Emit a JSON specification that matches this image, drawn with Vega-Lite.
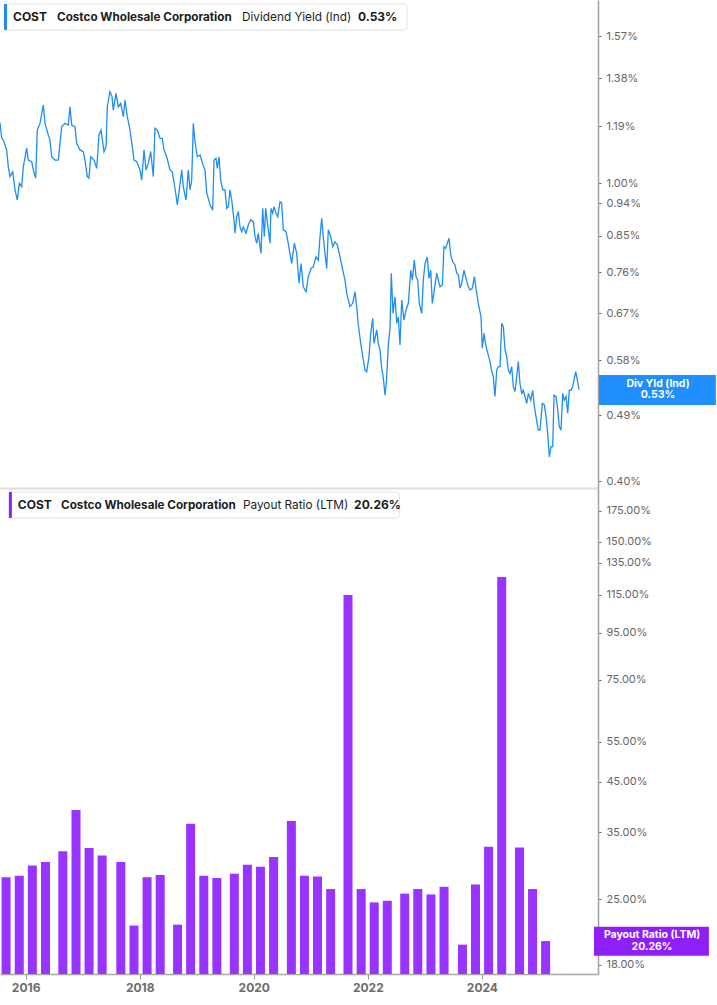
{
  "$schema": "https://vega.github.io/schema/vega-lite/v6.json",
  "padding": 0,
  "background": "white",
  "spacing": 0,
  "config": {
    "view": {"stroke": null},
    "font": "Inter",
    "axis": {"grid": false, "labelFont": "Inter"}
  },
  "datasets": {
    "yield": [
      {"year":2015.638,"yield":1.204},{"year":2015.667,"yield":1.148},{"year":2015.695,"yield":1.141},{"year":2015.753,"yield":1.107},
      {"year":2015.781,"yield":1.051},{"year":2015.810,"yield":1.020},{"year":2015.857,"yield":1.035},{"year":2015.897,"yield":0.979},
      {"year":2015.936,"yield":0.949},{"year":2015.971,"yield":0.999},{"year":2016.012,"yield":0.989},{"year":2016.040,"yield":1.051},
      {"year":2016.098,"yield":1.113},{"year":2016.126,"yield":1.073},{"year":2016.184,"yield":1.068},{"year":2016.212,"yield":1.041},
      {"year":2016.253,"yield":1.015},{"year":2016.281,"yield":1.177},{"year":2016.328,"yield":1.201},{"year":2016.384,"yield":1.271},
      {"year":2016.414,"yield":1.201},{"year":2016.471,"yield":1.159},{"year":2016.500,"yield":1.141},{"year":2016.529,"yield":1.084},
      {"year":2016.586,"yield":1.073},{"year":2016.643,"yield":1.073},{"year":2016.702,"yield":1.189},{"year":2016.759,"yield":1.201},
      {"year":2016.816,"yield":1.195},{"year":2016.845,"yield":1.264},{"year":2016.874,"yield":1.195},{"year":2016.931,"yield":1.189},
      {"year":2016.960,"yield":1.130},{"year":2017.017,"yield":1.107},{"year":2017.074,"yield":1.101},{"year":2017.103,"yield":1.073},
      {"year":2017.143,"yield":1.020},{"year":2017.172,"yield":1.015},{"year":2017.202,"yield":1.084},{"year":2017.259,"yield":1.073},
      {"year":2017.305,"yield":1.046},{"year":2017.345,"yield":1.159},{"year":2017.379,"yield":1.177},{"year":2017.431,"yield":1.101},
      {"year":2017.466,"yield":1.118},{"year":2017.488,"yield":1.264},{"year":2017.534,"yield":1.324},{"year":2017.569,"yield":1.304},
      {"year":2017.591,"yield":1.251},{"year":2017.638,"yield":1.317},{"year":2017.678,"yield":1.264},{"year":2017.719,"yield":1.277},
      {"year":2017.764,"yield":1.226},{"year":2017.793,"yield":1.290},{"year":2017.833,"yield":1.226},{"year":2017.879,"yield":1.177},
      {"year":2017.919,"yield":1.118},{"year":2017.948,"yield":1.073},{"year":2017.995,"yield":1.068},{"year":2018.052,"yield":1.041},
      {"year":2018.081,"yield":1.009},{"year":2018.121,"yield":1.107},{"year":2018.155,"yield":1.041},{"year":2018.195,"yield":1.062},
      {"year":2018.236,"yield":1.101},{"year":2018.281,"yield":1.020},{"year":2018.310,"yield":1.183},{"year":2018.350,"yield":1.177},
      {"year":2018.397,"yield":1.147},{"year":2018.436,"yield":1.147},{"year":2018.466,"yield":1.107},{"year":2018.512,"yield":1.084},
      {"year":2018.569,"yield":1.041},{"year":2018.609,"yield":1.035},{"year":2018.655,"yield":0.984},{"year":2018.695,"yield":0.935},
      {"year":2018.729,"yield":0.979},{"year":2018.771,"yield":1.041},{"year":2018.798,"yield":0.989},{"year":2018.845,"yield":0.949},
      {"year":2018.884,"yield":1.041},{"year":2018.914,"yield":0.979},{"year":2018.943,"yield":1.009},{"year":2018.971,"yield":1.201},
      {"year":2019.000,"yield":1.135},{"year":2019.040,"yield":1.084},{"year":2019.086,"yield":1.090},{"year":2019.143,"yield":1.054},
      {"year":2019.172,"yield":1.041},{"year":2019.202,"yield":0.971},{"year":2019.259,"yield":0.935},{"year":2019.305,"yield":0.920},
      {"year":2019.328,"yield":1.073},{"year":2019.362,"yield":1.079},{"year":2019.384,"yield":1.046},{"year":2019.414,"yield":1.084},
      {"year":2019.443,"yield":1.009},{"year":2019.478,"yield":0.979},{"year":2019.517,"yield":0.979},{"year":2019.547,"yield":0.925},
      {"year":2019.574,"yield":0.930},{"year":2019.603,"yield":0.979},{"year":2019.633,"yield":0.949},{"year":2019.672,"yield":0.893},
      {"year":2019.690,"yield":0.857},{"year":2019.719,"yield":0.902},{"year":2019.747,"yield":0.916},{"year":2019.776,"yield":0.874},
      {"year":2019.805,"yield":0.861},{"year":2019.833,"yield":0.874},{"year":2019.879,"yield":0.857},{"year":2019.919,"yield":0.879},
      {"year":2019.960,"yield":0.893},{"year":2020.005,"yield":0.888},{"year":2020.034,"yield":0.848},{"year":2020.064,"yield":0.831},
      {"year":2020.091,"yield":0.857},{"year":2020.121,"yield":0.822},{"year":2020.138,"yield":0.806},{"year":2020.167,"yield":0.925},
      {"year":2020.195,"yield":0.848},{"year":2020.219,"yield":0.925},{"year":2020.264,"yield":0.866},{"year":2020.293,"yield":0.831},
      {"year":2020.310,"yield":0.925},{"year":2020.340,"yield":0.911},{"year":2020.362,"yield":0.930},{"year":2020.397,"yield":0.911},
      {"year":2020.426,"yield":0.902},{"year":2020.466,"yield":0.944},{"year":2020.495,"yield":0.940},{"year":2020.522,"yield":0.866},
      {"year":2020.569,"yield":0.861},{"year":2020.598,"yield":0.839},{"year":2020.626,"yield":0.814},{"year":2020.667,"yield":0.781},
      {"year":2020.712,"yield":0.831},{"year":2020.753,"yield":0.806},{"year":2020.793,"yield":0.735},{"year":2020.828,"yield":0.781},
      {"year":2020.867,"yield":0.727},{"year":2020.914,"yield":0.716},{"year":2020.953,"yield":0.750},{"year":2021.000,"yield":0.769},
      {"year":2021.040,"yield":0.773},{"year":2021.086,"yield":0.797},{"year":2021.126,"yield":0.789},{"year":2021.155,"yield":0.848},
      {"year":2021.184,"yield":0.897},{"year":2021.212,"yield":0.848},{"year":2021.241,"yield":0.806},{"year":2021.271,"yield":0.769},
      {"year":2021.298,"yield":0.866},{"year":2021.340,"yield":0.848},{"year":2021.374,"yield":0.822},{"year":2021.414,"yield":0.835},
      {"year":2021.453,"yield":0.827},{"year":2021.500,"yield":0.797},{"year":2021.547,"yield":0.765},{"year":2021.586,"yield":0.742},
      {"year":2021.616,"yield":0.713},{"year":2021.672,"yield":0.684},{"year":2021.719,"yield":0.691},{"year":2021.759,"yield":0.716},
      {"year":2021.788,"yield":0.684},{"year":2021.816,"yield":0.646},{"year":2021.857,"yield":0.611},{"year":2021.902,"yield":0.581},
      {"year":2021.931,"yield":0.563},{"year":2021.960,"yield":0.560},{"year":2022.000,"yield":0.587},{"year":2022.029,"yield":0.630},
      {"year":2022.064,"yield":0.660},{"year":2022.086,"yield":0.611},{"year":2022.133,"yield":0.637},{"year":2022.160,"yield":0.611},
      {"year":2022.190,"yield":0.599},{"year":2022.219,"yield":0.566},{"year":2022.247,"yield":0.549},{"year":2022.276,"yield":0.521},
      {"year":2022.302,"yield":0.546},{"year":2022.333,"yield":0.608},{"year":2022.362,"yield":0.641},{"year":2022.384,"yield":0.758},
      {"year":2022.414,"yield":0.670},{"year":2022.448,"yield":0.705},{"year":2022.478,"yield":0.650},{"year":2022.505,"yield":0.663},
      {"year":2022.534,"yield":0.608},{"year":2022.564,"yield":0.698},{"year":2022.603,"yield":0.656},{"year":2022.638,"yield":0.677},
      {"year":2022.678,"yield":0.691},{"year":2022.719,"yield":0.765},{"year":2022.747,"yield":0.742},{"year":2022.781,"yield":0.789},
      {"year":2022.810,"yield":0.750},{"year":2022.840,"yield":0.742},{"year":2022.867,"yield":0.691},{"year":2022.909,"yield":0.670},
      {"year":2022.936,"yield":0.742},{"year":2022.966,"yield":0.781},{"year":2023.005,"yield":0.797},{"year":2023.034,"yield":0.746},
      {"year":2023.064,"yield":0.765},{"year":2023.091,"yield":0.691},{"year":2023.126,"yield":0.720},{"year":2023.167,"yield":0.758},
      {"year":2023.195,"yield":0.742},{"year":2023.224,"yield":0.727},{"year":2023.264,"yield":0.731},{"year":2023.293,"yield":0.822},
      {"year":2023.322,"yield":0.818},{"year":2023.350,"yield":0.831},{"year":2023.379,"yield":0.844},{"year":2023.409,"yield":0.802},
      {"year":2023.443,"yield":0.785},{"year":2023.483,"yield":0.777},{"year":2023.512,"yield":0.758},{"year":2023.540,"yield":0.754},
      {"year":2023.569,"yield":0.724},{"year":2023.598,"yield":0.735},{"year":2023.638,"yield":0.765},{"year":2023.672,"yield":0.746},
      {"year":2023.702,"yield":0.731},{"year":2023.741,"yield":0.720},{"year":2023.781,"yield":0.724},{"year":2023.816,"yield":0.750},
      {"year":2023.857,"yield":0.713},{"year":2023.884,"yield":0.691},{"year":2023.931,"yield":0.663},{"year":2023.953,"yield":0.602},
      {"year":2023.983,"yield":0.630},{"year":2024.017,"yield":0.605},{"year":2024.047,"yield":0.593},{"year":2024.086,"yield":0.578},
      {"year":2024.116,"yield":0.560},{"year":2024.143,"yield":0.552},{"year":2024.172,"yield":0.519},{"year":2024.202,"yield":0.563},
      {"year":2024.229,"yield":0.569},{"year":2024.259,"yield":0.569},{"year":2024.288,"yield":0.650},{"year":2024.316,"yield":0.643},
      {"year":2024.345,"yield":0.599},{"year":2024.374,"yield":0.587},{"year":2024.402,"yield":0.563},{"year":2024.431,"yield":0.557},
      {"year":2024.460,"yield":0.569},{"year":2024.488,"yield":0.535},{"year":2024.517,"yield":0.527},{"year":2024.547,"yield":0.552},
      {"year":2024.574,"yield":0.578},{"year":2024.603,"yield":0.540},{"year":2024.633,"yield":0.524},{"year":2024.660,"yield":0.529},
      {"year":2024.690,"yield":0.519},{"year":2024.719,"yield":0.508},{"year":2024.747,"yield":0.524},{"year":2024.788,"yield":0.513},
      {"year":2024.822,"yield":0.529},{"year":2024.850,"yield":0.503},{"year":2024.879,"yield":0.488},{"year":2024.919,"yield":0.468},
      {"year":2024.948,"yield":0.468},{"year":2024.988,"yield":0.508},{"year":2025.022,"yield":0.506},{"year":2025.052,"yield":0.488},
      {"year":2025.081,"yield":0.463},{"year":2025.109,"yield":0.431},{"year":2025.138,"yield":0.445},{"year":2025.167,"yield":0.445},
      {"year":2025.190,"yield":0.521},{"year":2025.224,"yield":0.519},{"year":2025.253,"yield":0.498},{"year":2025.281,"yield":0.473},
      {"year":2025.310,"yield":0.468},{"year":2025.340,"yield":0.524},{"year":2025.367,"yield":0.513},{"year":2025.397,"yield":0.519},
      {"year":2025.426,"yield":0.493},{"year":2025.453,"yield":0.529},{"year":2025.483,"yield":0.529},{"year":2025.512,"yield":0.535},
      {"year":2025.534,"yield":0.546},{"year":2025.564,"yield":0.560},{"year":2025.591,"yield":0.546},{"year":2025.621,"yield":0.530}
    ],
    "payout": [
      {"year":2015.657,"payout":27.9},{"year":2015.888,"payout":28.1},{"year":2016.117,"payout":29.6},{"year":2016.348,"payout":30.1},
      {"year":2016.652,"payout":31.8},{"year":2016.883,"payout":39.1},{"year":2017.112,"payout":32.3},{"year":2017.341,"payout":31.1},
      {"year":2017.669,"payout":30.1},{"year":2017.900,"payout":21.9},{"year":2018.129,"payout":27.9},{"year":2018.359,"payout":28.2},
      {"year":2018.664,"payout":22.0},{"year":2018.893,"payout":36.5},{"year":2019.124,"payout":28.1},{"year":2019.353,"payout":27.8},
      {"year":2019.659,"payout":28.4},{"year":2019.888,"payout":29.7},{"year":2020.117,"payout":29.4},{"year":2020.348,"payout":30.9},
      {"year":2020.659,"payout":37.0},{"year":2020.888,"payout":28.1},{"year":2021.117,"payout":28.0},{"year":2021.348,"payout":26.3},
      {"year":2021.652,"payout":114.8},{"year":2021.883,"payout":26.3},{"year":2022.112,"payout":24.6},{"year":2022.341,"payout":24.8},
      {"year":2022.647,"payout":25.7},{"year":2022.876,"payout":26.3},{"year":2023.107,"payout":25.6},{"year":2023.336,"payout":26.6},
      {"year":2023.659,"payout":19.9},{"year":2023.888,"payout":26.9},{"year":2024.117,"payout":32.5},{"year":2024.348,"payout":125.7},
      {"year":2024.659,"payout":32.4},{"year":2024.888,"payout":26.3},{"year":2025.117,"payout":20.26}
    ]
  },
  "vconcat": [
    {
      "width": 598,
      "height": 488,
      "layer": [
        {
          "data": {"name": "yield"},
          "mark": {"type": "line", "color": "#1f8ef1", "strokeWidth": 1.3, "clip": true},
          "encoding": {
            "x": {
              "field": "year", "type": "quantitative",
              "scale": {"domain": [2015.638, 2025.948], "nice": false, "zero": false},
              "axis": {"title": null, "labels": false, "ticks": false, "domainColor": "#dedede", "domainWidth": 2}
            },
            "y": {
              "field": "yield", "type": "quantitative",
              "scale": {"type": "log", "domain": [0.3918, 1.7546], "nice": false},
              "axis": {
                "title": null,
                "orient": "right",
                "values": [0.4, 0.49, 0.58, 0.67, 0.76, 0.85, 0.94, 1.0, 1.19, 1.38, 1.57],
                "labelExpr": "format(datum.value, '.2f') + '%'",
                "labelOverlap": false,
                "domainColor": "#a0a0a0", "domainWidth": 1.5,
                "tickColor": "#666666", "tickSize": 3,
                "labelPadding": 5, "labelFontSize": 11, "labelColor": "#666666"
              }
            }
          }
        },
        {
          "data": {"values": [{}]},
          "mark": {"type": "rect", "fill": "white", "stroke": "#e3e3e3", "cornerRadius": 3},
          "encoding": {
            "x": {"datum": 2015.7069}, "x2": {"datum": 2022.6552},
            "y": {"datum": 1.7331}, "y2": {"datum": 1.6000}
          }
        },
        {
          "data": {"values": [{}]},
          "mark": {"type": "rect", "fill": "#1f8ef1"},
          "encoding": {
            "x": {"datum": 2015.7069}, "x2": {"datum": 2015.7586},
            "y": {"datum": 1.7331}, "y2": {"datum": 1.6000}
          }
        },
        {
          "data": {"values": [{}]},
          "mark": {"type": "text", "text": "COST", "align": "left", "baseline": "middle", "fontSize": 12, "fontWeight": "bold", "color": "#1c1c1c"},
          "encoding": {"x": {"datum": 2015.8621}, "y": {"datum": 1.6653}}
        },
        {
          "data": {"values": [{}]},
          "mark": {"type": "text", "text": "Costco Wholesale Corporation", "align": "left", "baseline": "middle", "fontSize": 11.7, "fontWeight": "bold", "color": "#1c1c1c"},
          "encoding": {"x": {"datum": 2016.6207}, "y": {"datum": 1.6653}}
        },
        {
          "data": {"values": [{}]},
          "mark": {"type": "text", "text": "Dividend Yield (Ind)", "align": "left", "baseline": "middle", "fontSize": 11.8, "color": "#1c1c1c"},
          "encoding": {"x": {"datum": 2019.8103}, "y": {"datum": 1.6653}}
        },
        {
          "data": {"values": [{}]},
          "mark": {"type": "text", "text": "0.53%", "align": "left", "baseline": "middle", "fontSize": 12, "fontWeight": "bold", "color": "#1c1c1c"},
          "encoding": {"x": {"datum": 2021.8103}, "y": {"datum": 1.6653}}
        },
        {
          "data": {"values": [{}]},
          "mark": {"type": "rect", "fill": "#1f8fff", "clip": false},
          "encoding": {
            "x": {"datum": 2025.9655}, "x2": {"datum": 2027.98},
            "y": {"datum": 0.5544}, "y2": {"datum": 0.5056}
          }
        },
        {
          "data": {"values": [{}]},
          "mark": {"type": "text", "text": ["Div Yld (Ind)", "0.53%"], "align": "center", "baseline": "middle", "dy": -6, "lineHeight": 11.5, "fontSize": 10.5, "fontWeight": "bold", "color": "white", "clip": false},
          "encoding": {"x": {"datum": 2026.9828}, "y": {"datum": 0.53}}
        }
      ]
    },
    {
      "width": 598,
      "height": 486,
      "layer": [
        {
          "data": {"name": "payout"},
          "mark": {"type": "bar", "color": "#9933ff", "size": 9, "clip": true, "orient": "vertical"},
          "encoding": {
            "x": {
              "field": "year", "type": "quantitative",
              "scale": {"domain": [2015.638, 2025.948], "nice": false, "zero": false},
              "axis": {
                "title": null,
                "values": [2016, 2018, 2020, 2022, 2024],
                "format": "d",
                "domainColor": "#a8a8a8", "domainWidth": 1.5,
                "tickColor": "#999999", "tickSize": 5,
                "labelPadding": 3, "labelFontSize": 12, "labelFontWeight": "bold", "labelColor": "#6b6b6b"
              }
            },
            "y": {
              "field": "payout", "type": "quantitative",
              "scale": {"type": "log", "domain": [17.18, 196.3], "nice": false},
              "axis": {
                "title": null,
                "orient": "right",
                "values": [18, 25, 35, 45, 55, 75, 95, 115, 135, 150, 175],
                "labelExpr": "format(datum.value, '.2f') + '%'",
                "labelOverlap": false,
                "domainColor": "#a0a0a0", "domainWidth": 1.5,
                "tickColor": "#666666", "tickSize": 3,
                "labelPadding": 5, "labelFontSize": 11, "labelColor": "#666666"
              }
            },
            "y2": {"datum": 17.18}
          }
        },
        {
          "data": {"values": [{}]},
          "mark": {"type": "rect", "fill": "white", "stroke": "#e3e3e3", "cornerRadius": 3},
          "encoding": {
            "x": {"datum": 2015.7069}, "x2": {"datum": 2022.5517},
            "y": {"datum": 192.4}, "y2": {"datum": 168.9}
          }
        },
        {
          "data": {"values": [{}]},
          "mark": {"type": "rect", "fill": "#8f1ff7"},
          "encoding": {
            "x": {"datum": 2015.7069}, "x2": {"datum": 2015.7586},
            "y": {"datum": 192.4}, "y2": {"datum": 168.9}
          }
        },
        {
          "data": {"values": [{}]},
          "mark": {"type": "text", "text": "COST", "align": "left", "baseline": "middle", "fontSize": 12, "fontWeight": "bold", "color": "#1c1c1c"},
          "encoding": {"x": {"datum": 2015.8621}, "y": {"datum": 180.3}}
        },
        {
          "data": {"values": [{}]},
          "mark": {"type": "text", "text": "Costco Wholesale Corporation", "align": "left", "baseline": "middle", "fontSize": 11.7, "fontWeight": "bold", "color": "#1c1c1c"},
          "encoding": {"x": {"datum": 2016.6207}, "y": {"datum": 180.3}}
        },
        {
          "data": {"values": [{}]},
          "mark": {"type": "text", "text": "Payout Ratio (LTM)", "align": "left", "baseline": "middle", "fontSize": 11.8, "color": "#1c1c1c"},
          "encoding": {"x": {"datum": 2019.8103}, "y": {"datum": 180.3}}
        },
        {
          "data": {"values": [{}]},
          "mark": {"type": "text", "text": "20.26%", "align": "left", "baseline": "middle", "fontSize": 12, "fontWeight": "bold", "color": "#1c1c1c"},
          "encoding": {"x": {"datum": 2021.7586}, "y": {"datum": 180.3}}
        },
        {
          "data": {"values": [{}]},
          "mark": {"type": "rect", "fill": "#8f1ff7", "clip": false},
          "encoding": {
            "x": {"datum": 2025.9655}, "x2": {"datum": 2027.98},
            "y": {"datum": 21.78}, "y2": {"datum": 18.83}
          }
        },
        {
          "data": {"values": [{}]},
          "mark": {"type": "text", "text": ["Payout Ratio (LTM)", "20.26%"], "align": "center", "baseline": "middle", "dy": -6, "lineHeight": 11.5, "fontSize": 10.5, "fontWeight": "bold", "color": "white", "clip": false},
          "encoding": {"x": {"datum": 2026.9828}, "y": {"datum": 20.26}}
        }
      ]
    }
  ]
}
